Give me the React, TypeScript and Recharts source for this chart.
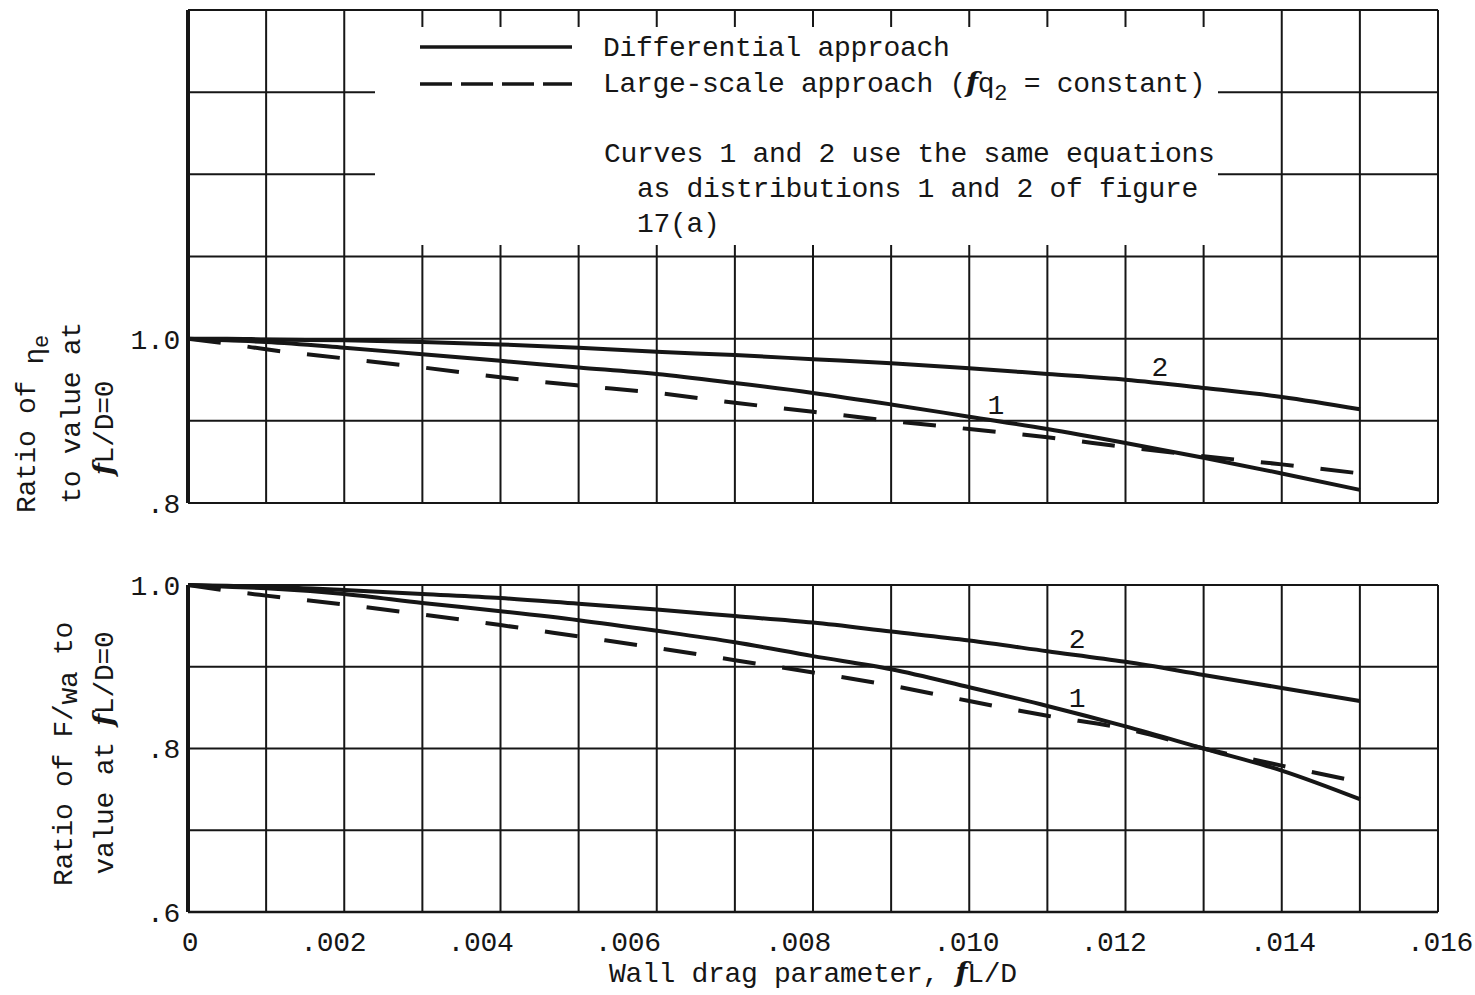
import React from "react";
import {
  LineChart,
  Line,
  XAxis,
  YAxis,
  CartesianGrid,
  ReferenceDot,
  Legend,
} from "recharts";

const FONT = "'Liberation Mono', 'Courier New', monospace";
const SCRIPT = "'DejaVu Serif', serif";
const INK = "#161616";

// wall drag parameter fL/D
const fLD = [
  0, 0.0005, 0.001, 0.002, 0.003, 0.004, 0.005, 0.006, 0.007, 0.008, 0.009,
  0.01, 0.011, 0.012, 0.013, 0.014, 0.015,
];

// top panel: ratio of eta_e to value at fL/D = 0
const effCurve1 = [
  1.0, 0.998, 0.996, 0.989, 0.981, 0.973, 0.965, 0.957, 0.946, 0.934, 0.92,
  0.905, 0.89, 0.873, 0.855, 0.836, 0.816,
];
const effCurve2 = [
  1.0, 1.0, 0.999, 0.998, 0.996, 0.993, 0.989, 0.984, 0.98, 0.975, 0.97,
  0.964, 0.957, 0.95, 0.94, 0.929, 0.914,
];
const effLargeScale = [
  1.0, 0.994, 0.987, 0.976, 0.965, 0.953, 0.943, 0.934, 0.922, 0.911, 0.9,
  0.89, 0.88, 0.868, 0.857, 0.847, 0.836,
];

// bottom panel: ratio of F/wa to value at fL/D = 0
const thrustCurve1 = [
  1.0, 0.998, 0.996, 0.989, 0.978, 0.968, 0.957, 0.944, 0.93, 0.913, 0.897,
  0.875, 0.852, 0.827, 0.8, 0.773, 0.738,
];
const thrustCurve2 = [
  1.0, 0.999, 0.998, 0.994, 0.989, 0.984, 0.977, 0.97, 0.962, 0.954, 0.943,
  0.932, 0.919, 0.906, 0.89, 0.874, 0.858,
];
const thrustLargeScale = [
  1.0, 0.993, 0.987, 0.976, 0.964, 0.951, 0.937, 0.923, 0.908, 0.893, 0.877,
  0.858, 0.84, 0.824, 0.8, 0.779, 0.759,
];

const xTicks = [
  0, 0.001, 0.002, 0.003, 0.004, 0.005, 0.006, 0.007, 0.008, 0.009, 0.01,
  0.011, 0.012, 0.013, 0.014, 0.015, 0.016,
];
const xTickLabels = [
  "0", "", ".002", "", ".004", "", ".006", "", ".008", "", ".010", "", ".012",
  "", ".014", "", ".016",
];
// typed labels sit a little off their grid lines
const xTickShift = [2, 0, -11, 0, -20, 0, -29, 0, -15, 0, -3, 0, -12, 0, 1, 0, 2];
const effTicks = [0.8, 0.9, 1.0, 1.1, 1.2, 1.3, 1.4];
const effTickLabels = [".8", "", "1.0", "", "", "", ""];
const thrustTicks = [0.6, 0.7, 0.8, 0.9, 1.0];
const thrustTickLabels = [".6", "", ".8", "", "1.0"];

const legendSolid = "Differential approach";
const legendNote = [
  "Curves 1 and 2 use the same equations",
  "as distributions 1 and 2 of figure",
  "17(a)",
];

const effNotes = [
  { x: 0.01244, y: 0.967, text: "2" },
  { x: 0.01034, y: 0.921, text: "1" },
];
const thrustNotes = [
  { x: 0.01138, y: 0.935, text: "2" },
  { x: 0.01138, y: 0.863, text: "1" },
];

const effData = fLD.map((x, i) => ({
  x,
  c1: effCurve1[i],
  c2: effCurve2[i],
  ls: effLargeScale[i],
}));
const thrustData = fLD.map((x, i) => ({
  x,
  c1: thrustCurve1[i],
  c2: thrustCurve2[i],
  ls: thrustLargeScale[i],
}));

const textProps = {
  fontFamily: FONT,
  fontSize: 28,
  fill: INK,
  letterSpacing: -0.3,
  style: { whiteSpace: "pre" as const },
};

const ScriptF = () => (
  <tspan fontFamily={SCRIPT} fontStyle="italic" fontWeight="bold">
    f
  </tspan>
);

const LegendBox = () => (
  <svg width={843} height={218} style={{ display: "block", background: "#fff" }}>
    <line x1={45} y1={20} x2={197} y2={20} stroke={INK} strokeWidth={3.5} />
    <line
      x1={45}
      y1={57}
      x2={197}
      y2={57}
      stroke={INK}
      strokeWidth={3.5}
      strokeDasharray="32 9"
    />
    <g {...textProps}>
      <text x={228} y={29}>{legendSolid}</text>
      <text x={228} y={65}>
        Large-scale approach (<ScriptF />q
        <tspan dy={8} fontSize={22}>2</tspan>
        <tspan dy={-8}> = constant)</tspan>
      </text>
      <text x={229} y={135}>{legendNote[0]}</text>
      <text x={262} y={170}>{legendNote[1]}</text>
      <text x={262} y={205}>{legendNote[2]}</text>
    </g>
  </svg>
);

const EffTitle = () => (
  <g {...textProps}>
    <text transform="translate(35 424) rotate(-90)" textAnchor="middle">
      Ratio of  <tspan dy={8}>η</tspan>
      <tspan dy={5} fontSize={22}>e</tspan>
    </text>
    <text transform="translate(80 413) rotate(-90)" textAnchor="middle">
      to value at
    </text>
    <text transform="translate(113 428) rotate(-90)" textAnchor="middle">
      <ScriptF />L/D=0
    </text>
  </g>
);

const ThrustTitle = () => (
  <g {...textProps}>
    <text transform="translate(72 214) rotate(-90)" textAnchor="middle">
      Ratio of  F/<tspan dy={5}>wa</tspan>
      <tspan dy={-5}>  to</tspan>
    </text>
    <text transform="translate(113 213) rotate(-90)" textAnchor="middle">
      value at  <ScriptF />L/D=0
    </text>
  </g>
);

const XTitle = () => (
  <text x={609} y={442} {...textProps}>
    Wall drag parameter, <ScriptF />L/D
  </text>
);

const tickStyle = { fill: INK, fontSize: 28, fontFamily: FONT, letterSpacing: -0.3 };

const XTick = (props: any) => {
  const { x, y, index } = props;
  const label = xTickLabels[index];
  if (!label) return null;
  return (
    <text
      x={x + xTickShift[index]}
      y={y + 37}
      textAnchor="middle"
      {...tickStyle}
    >
      {label}
    </text>
  );
};

function series() {
  return [
    <Line
      key="c2"
      type="monotone"
      dataKey="c2"
      stroke={INK}
      strokeWidth={4}
      dot={false}
      activeDot={false}
      isAnimationActive={false}
    />,
    <Line
      key="c1"
      type="monotone"
      dataKey="c1"
      stroke={INK}
      strokeWidth={4}
      dot={false}
      activeDot={false}
      isAnimationActive={false}
    />,
    <Line
      key="ls"
      type="monotone"
      dataKey="ls"
      stroke={INK}
      strokeWidth={4}
      strokeDasharray="33 27"
      dot={false}
      activeDot={false}
      isAnimationActive={false}
    />,
  ];
}

function notes(list: { x: number; y: number; text: string }[]) {
  return list.map((n) => (
    <ReferenceDot
      key={n.text}
      x={n.x}
      y={n.y}
      r={0}
      fill="none"
      stroke="none"
      label={{
        value: n.text,
        position: "center",
        fill: INK,
        fontSize: 28,
        fontFamily: FONT,
      }}
    />
  ));
}

export default function App() {
  return (
    <div
      style={{
        position: "absolute",
        left: 0,
        top: 0,
        width: 1475,
        height: 995,
        background: "#fff",
      }}
    >
      <div style={{ position: "absolute", left: 0, top: 0 }}>
        <LineChart
          width={1475}
          height={520}
          data={effData}
          margin={{ top: 10, right: 37, bottom: 17, left: 0 }}
        >
          <CartesianGrid stroke={INK} strokeWidth={2} />
          <XAxis
            type="number"
            dataKey="x"
            domain={[0, 0.016]}
            ticks={xTicks}
            interval={0}
            height={0}
            tickSize={0}
            tickFormatter={() => ""}
            axisLine={false}
          />
          <YAxis
            type="number"
            domain={[0.8, 1.4]}
            ticks={effTicks}
            interval={0}
            width={188}
            tickSize={0}
            tickMargin={8}
            tick={tickStyle}
            tickFormatter={(_v: number, i: number) => effTickLabels[i]}
            axisLine={{ stroke: INK, strokeWidth: 4 }}
            label={<EffTitle />}
          />
          {series()}
          {notes(effNotes)}
          <Legend
            layout="vertical"
            align="center"
            verticalAlign="middle"
            content={<LegendBox />}
            wrapperStyle={{ left: 375, top: 27, width: 843, height: 218 }}
          />
        </LineChart>
      </div>
      <div style={{ position: "absolute", left: 0, top: 540 }}>
        <LineChart
          width={1475}
          height={455}
          data={thrustData}
          margin={{ top: 45, right: 37, bottom: 3, left: 0 }}
        >
          <CartesianGrid stroke={INK} strokeWidth={2} />
          <XAxis
            type="number"
            dataKey="x"
            domain={[0, 0.016]}
            ticks={xTicks}
            interval={0}
            height={80}
            tickSize={0}
            tick={<XTick />}
            axisLine={{ stroke: INK, strokeWidth: 2.5 }}
            label={<XTitle />}
          />
          <YAxis
            type="number"
            domain={[0.6, 1.0]}
            ticks={thrustTicks}
            interval={0}
            width={188}
            tickSize={0}
            tickMargin={8}
            tick={tickStyle}
            tickFormatter={(_v: number, i: number) => thrustTickLabels[i]}
            axisLine={{ stroke: INK, strokeWidth: 4 }}
            label={<ThrustTitle />}
          />
          {series()}
          {notes(thrustNotes)}
        </LineChart>
      </div>
    </div>
  );
}
